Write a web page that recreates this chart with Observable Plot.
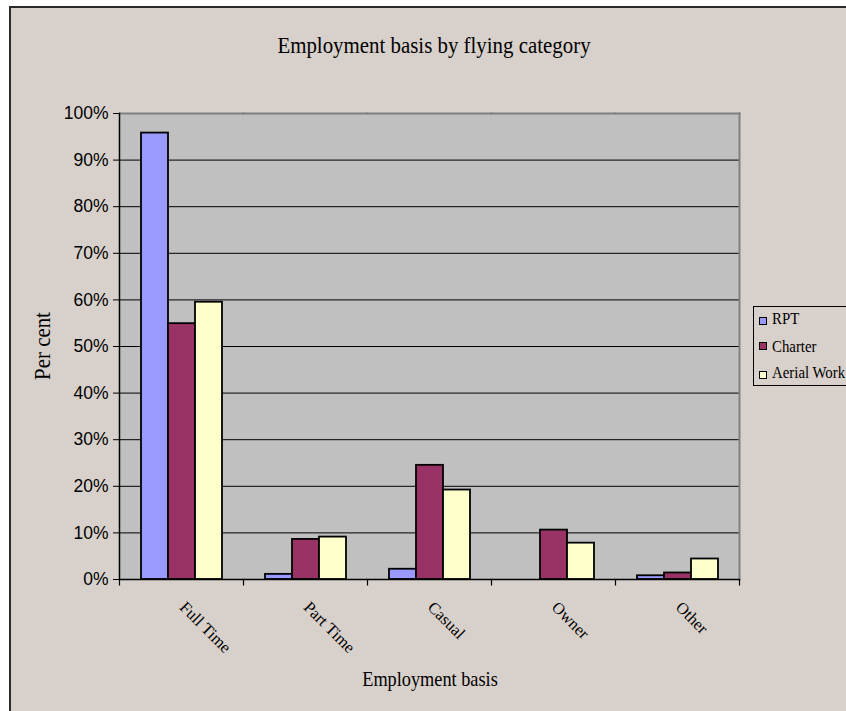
<!DOCTYPE html>
<html>
<head>
<meta charset="utf-8">
<script src="https://cdn.jsdelivr.net/npm/d3@7"></script>
<script src="https://cdn.jsdelivr.net/npm/@observablehq/plot@0.6"></script>
<style>
  body { margin: 0; background: #ffffff; }
  #wrap { position: relative; width: 846px; height: 711px; overflow: hidden; }
  #panel { position: absolute; left: 9px; top: 6px; width: 900px; height: 800px; background: #d8d0ca;
           border-left: 2px solid #2a2a2a; border-top: 2px solid #2a2a2a; box-sizing: border-box; }
  #chart { position: absolute; left: 0; top: 0; }
  .lbl { position: absolute; font-family: "Liberation Serif", "Times New Roman", serif; color: #000;
         white-space: nowrap; line-height: 1; }
  #title { left: 434px; top: 33px; font-size: 24px; transform: translateX(-50%) scaleX(0.87); }
  #xtitle { left: 430px; top: 669px; font-size: 21px; transform: translateX(-50%) scaleX(0.87); }
  #ytitle { left: 42px; top: 346px; font-size: 24px; transform: translate(-50%, -50%) rotate(-90deg) scaleX(0.87); }
  #legend { position: absolute; left: 753px; top: 306px; width: 200px; height: 80px; border: 1px solid #000; box-sizing: border-box; }
  .sw { position: absolute; left: 759px; width: 8px; height: 8px; border: 1.5px solid #000; box-sizing: border-box; }
  .lt { left: 772px; font-size: 16.5px; transform-origin: left center; transform: scaleX(0.9); }
</style>
</head>
<body>
<div id="wrap">
  <div id="panel"></div>
  <div id="chart"></div>
  <div class="lbl" id="title"></div>
  <div class="lbl" id="ytitle"></div>
  <div class="lbl" id="xtitle"></div>
  <div id="legend"></div>
</div>
<script>
// ---- data ----
const chartTitle = "Employment basis by flying category";
const xTitle = "Employment basis";
const yTitle = "Per cent";
const categories = ["Full Time", "Part Time", "Casual", "Owner", "Other"];
const seriesNames = ["RPT", "Charter", "Aerial Work"];
const rptValues = [95.8, 1.1, 2.2, 0, 0.8];
const charterValues = [54.9, 8.6, 24.5, 10.6, 1.4];
const aerialValues = [59.5, 9.1, 19.2, 7.8, 4.4];
const seriesColors = ["#9999ff", "#993366", "#ffffcc"];
const yTicks = [0, 10, 20, 30, 40, 50, 60, 70, 80, 90, 100];

// ---- table built from the arrays ----
const seriesValues = [rptValues, charterValues, aerialValues];
const table = categories.flatMap((c, i) =>
  seriesNames.map((s, j) => ({category: c, series: s, value: seriesValues[j][i]}))
);

// ---- text ----
document.getElementById("title").textContent = chartTitle;
document.getElementById("xtitle").textContent = xTitle;
document.getElementById("ytitle").textContent = yTitle;

// ---- legend ----
const swTops = [317, 342, 371];
const txtTops = [311.3, 338.6, 365.3];
const wrap = document.getElementById("wrap");
seriesNames.forEach((s, j) => {
  const sw = document.createElement("div");
  sw.className = "sw";
  sw.style.top = swTops[j] + "px";
  sw.style.background = seriesColors[j];
  wrap.appendChild(sw);
  const t = document.createElement("div");
  t.className = "lbl lt";
  t.style.top = txtTops[j] + "px";
  t.textContent = s;
  wrap.appendChild(t);
});

// ---- chart ----
const tickSymbol = { draw(context) { context.moveTo(0, 0); context.lineTo(0, 6); } };

const chart = Plot.plot({
  width: 846,
  height: 711,
  marginLeft: 119,
  marginRight: 107,
  marginTop: 113,
  marginBottom: 132,
  style: { background: "transparent", fontFamily: "'Liberation Sans', Arial, sans-serif", fontSize: "17.5px", color: "#000" },
  fx: { domain: categories, padding: 0, axis: null },
  x: { domain: seriesNames, paddingInner: 0, paddingOuter: 0.755, axis: null },
  y: { domain: [0, 100], ticks: yTicks, tickFormat: d => d + "%", tickSize: 6, tickPadding: 5, label: null },
  color: { domain: seriesNames, range: seriesColors },
  marks: [
    Plot.frame({ fill: "#c0c0c0", stroke: "none", shapeRendering: "crispEdges", insetLeft: -0.5, insetRight: -0.5 }),
    Plot.ruleY(yTicks.filter(t => t > 0 && t < 100), { stroke: "#000", strokeWidth: 1 }),
    Plot.frame({ anchor: "top", stroke: "#808080", strokeWidth: 2 }),
    Plot.frame({ anchor: "right", stroke: "#808080", strokeWidth: 2, facetAnchor: "right" }),
    Plot.barY(table, { fx: "category", x: "series", y: "value", fill: "series", stroke: "#000", strokeWidth: 1.8 }),
    Plot.frame({ anchor: "bottom", stroke: "#000", strokeWidth: 1.5 }),
    Plot.frame({ anchor: "left", stroke: "#000", strokeWidth: 1.5, facetAnchor: "left" }),
    Plot.dot(categories, { fx: d => d, frameAnchor: "bottom-left", symbol: tickSymbol, stroke: "#000", fill: "none", strokeWidth: 1.2 }),
    Plot.dot(categories.slice(-1), { fx: d => d, frameAnchor: "bottom-right", symbol: tickSymbol, stroke: "#000", fill: "none", strokeWidth: 1.2 }),
    Plot.text(categories, { fx: d => d, text: d => d, frameAnchor: "bottom", dy: 25, dx: 1, rotate: 45, textAnchor: "start", lineAnchor: "middle",
      fontFamily: "'Liberation Serif', 'Times New Roman', serif", fontSize: 16.5, fill: "#000" })
  ]
});
document.getElementById("chart").appendChild(chart);
</script>
</body>
</html>
